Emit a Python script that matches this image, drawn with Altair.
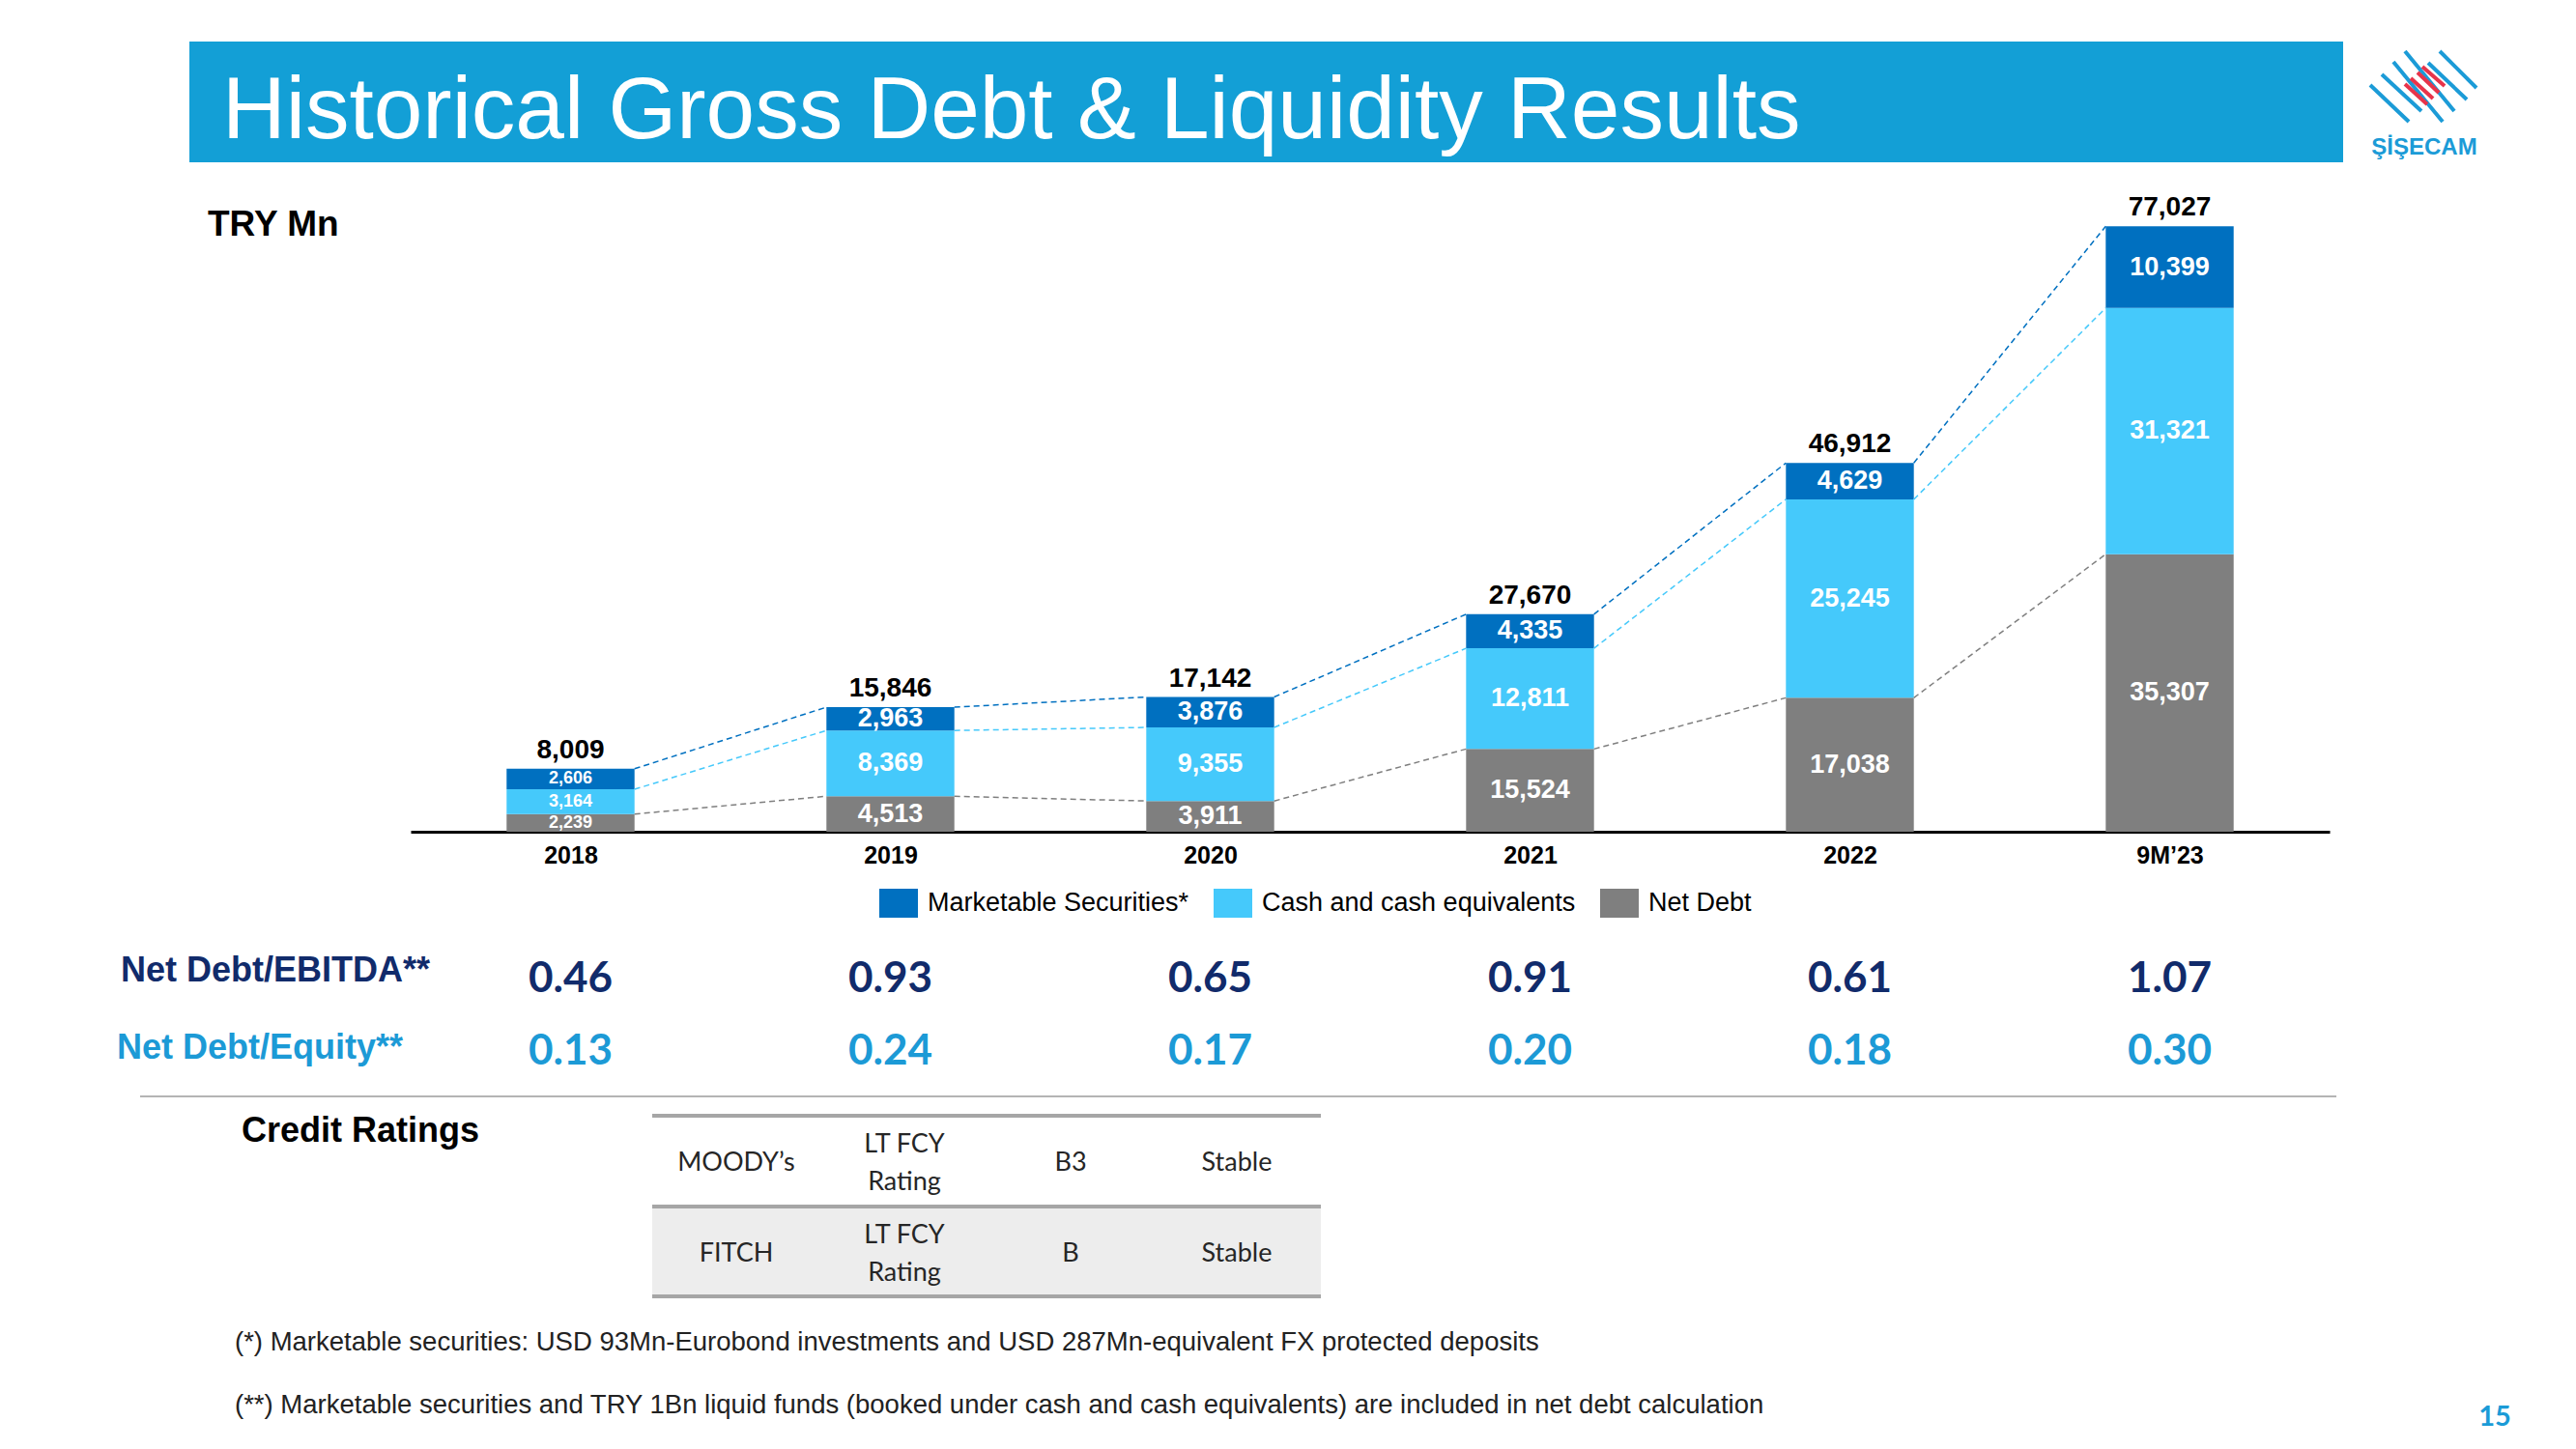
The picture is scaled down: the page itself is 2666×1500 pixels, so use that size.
import altair as alt
import pandas as pd

# ---------------- data ----------------
years = ["2018", "2019", "2020", "2021", "2022", "9M’23"]
net_debt = [2239, 4513, 3911, 10524, 17038, 35307]          # drawn heights
net_debt_labels = ["2,239", "4,513", "3,911", "15,524", "17,038", "35,307"]  # printed labels
cash = [3164, 8369, 9355, 12811, 25245, 31321]
securities = [2606, 2963, 3876, 4335, 4629, 10399]
totals = [8009, 15846, 17142, 27670, 46912, 77027]
nd_ebitda = [0.46, 0.93, 0.65, 0.91, 0.61, 1.07]
nd_equity = [0.13, 0.24, 0.17, 0.20, 0.18, 0.30]

series_names = ["Marketable Securities*", "Cash and cash equivalents", "Net Debt"]
series_colors = ["#0070C0", "#45C9FB", "#7F7F7F"]

agencies = ["MOODY’s", "FITCH"]
rating_types = ["LT FCY\nRating", "LT FCY\nRating"]
ratings = ["B3", "B"]
outlooks = ["Stable", "Stable"]

title_text = "Historical Gross Debt & Liquidity Results"
unit_text = "TRY Mn"
row_labels = ["Net Debt/EBITDA**", "Net Debt/Equity**"]
footnotes = [
    "(*) Marketable securities: USD 93Mn-Eurobond investments and USD 287Mn-equivalent FX protected deposits",
    "(**) Marketable securities and TRY 1Bn liquid funds (booked under cash and cash equivalents) are included in net debt calculation",
]
page_no = "15"
logo_text = "ŞİŞECAM"

# ---------------- tables ----------------
stack_order = [("Net Debt", net_debt, net_debt_labels),
               ("Cash and cash equivalents", cash, [f"{v:,}" for v in cash]),
               ("Marketable Securities*", securities, [f"{v:,}" for v in securities])]
seg_rows, tops = [], {n: [] for n, _, _ in stack_order}
for i in range(len(years)):
    base = 0
    for name, vals, labs in stack_order:
        seg_rows.append(dict(i=i, series=name, y0=base, y1=base + vals[i], label=labs[i]))
        base += vals[i]
        tops[name].append(base)
seg = pd.DataFrame(seg_rows)

con_rows = []
for name, _, _ in stack_order:
    for i in range(len(years) - 1):
        con_rows.append(dict(i=i, series=name, ya=tops[name][i], yb=tops[name][i + 1]))
con = pd.DataFrame(con_rows)

tot = pd.DataFrame(dict(i=list(range(len(years))), total=totals))
ratios = pd.DataFrame(dict(i=list(range(len(years))), ebitda=nd_ebitda, equity=nd_equity))
one = pd.DataFrame({"k": [0]})

FONT = "Liberation Sans"
FONT2 = "Lato"
HALF = 0.2

xscale = alt.Scale(domain=[-0.5, len(years) - 0.5], nice=False, zero=False)
yscale = alt.Scale(domain=[0, 80000], nice=False)
color_scale = alt.Scale(domain=series_names, range=series_colors)
label_expr = "[" + ",".join("'" + y + "'" for y in years) + "][datum.value]"

xaxis = alt.Axis(values=list(range(len(years))), labelExpr=label_expr, ticks=False, grid=False,
                 domainColor="#000000", domainWidth=3, labelFont=FONT, labelFontSize=25,
                 labelFontWeight="bold", labelColor="#000000", labelPadding=12, title=None)


def X(field):
    return alt.X(field, scale=xscale, axis=xaxis, title=None)


def Y(field):
    return alt.Y(field, scale=yscale, axis=None)


bars = alt.Chart(seg).mark_rect().transform_calculate(
    xl=f"datum.i - {HALF}", xr=f"datum.i + {HALF}"
).encode(
    x=X("xl:Q"),
    x2="xr:Q",
    y=Y("y0:Q"),
    y2="y1:Q",
    color=alt.Color("series:N", scale=color_scale, legend=alt.Legend(
        orient="none", legendX=485, legendY=705, direction="horizontal", title=None,
        symbolType="M-1,-0.75H1V0.75H-1Z", symbolSize=1600, symbolStrokeWidth=0,
        labelFont=FONT, labelFontSize=27, labelColor="#000000", labelOffset=10,
        columnPadding=25, labelLimit=600)),
)

connectors = alt.Chart(con).mark_rule(strokeDash=[6, 4], strokeWidth=1.5).transform_calculate(
    xa=f"datum.i + {HALF}", xb=f"datum.i + 1 - {HALF}"
).encode(
    x=X("xa:Q"), x2="xb:Q",
    y=Y("ya:Q"), y2="yb:Q",
    color=alt.Color("series:N", scale=color_scale, legend=None),
)

seg_text = alt.Chart(seg).mark_text(color="white", font=FONT, fontWeight="bold", baseline="middle").transform_calculate(
    ym="(datum.y0 + datum.y1) / 2"
).encode(
    x=X("i:Q"),
    y=Y("ym:Q"),
    text="label:N",
    size=alt.condition("datum.i == 0", alt.value(18), alt.value(27)),
)

tot_text = alt.Chart(tot).mark_text(color="black", font=FONT, fontWeight="bold", fontSize=28,
                                     baseline="alphabetic", dy=-11).encode(
    x=X("i:Q"),
    y=Y("total:Q"),
    text=alt.Text("total:Q", format=","),
)

ebitda_text = alt.Chart(ratios).mark_text(color="#112B6B", font=FONT2, fontWeight="bold", fontSize=44,
                                          baseline="alphabetic").encode(
    x=X("i:Q"), y=alt.value(817),
    text=alt.Text("ebitda:Q", format=".2f"))
equity_text = alt.Chart(ratios).mark_text(color="#1C9AD6", font=FONT2, fontWeight="bold", fontSize=44,
                                          baseline="alphabetic").encode(
    x=X("i:Q"), y=alt.value(892),
    text=alt.Text("equity:Q", format=".2f"))


def txt(s, x, y, size, color="#000000", weight="normal", font=FONT, align="left", baseline="alphabetic", **kw):
    return alt.Chart(one).mark_text(font=font, fontSize=size, color=color, fontWeight=weight,
                                    align=align, baseline=baseline, **kw).encode(
        x=alt.value(x), y=alt.value(y), text=alt.value(s))


def box(x, x2, y, y2, color):
    return alt.Chart(one).mark_rect(color=color).encode(
        x=alt.value(x), x2=alt.value(x2), y=alt.value(y), y2=alt.value(y2))


def line(x, x2, y, y2, color, width):
    return alt.Chart(one).mark_rule(color=color, strokeWidth=width).encode(
        x=alt.value(x), x2=alt.value(x2), y=alt.value(y), y2=alt.value(y2))


deco = []
# title band
deco.append(box(-229, 2000, -167, -42, "#139FD6"))
deco.append(txt(title_text, -195, -67, 91, color="white"))
# logo
blue_stripes = [((2453, 88), (2493, 126)), ((2465, 77), (2506, 115)), ((2477, 64), (2528, 126)),
                ((2489, 53), (2540, 115)), ((2513, 65), (2553, 103)), ((2525, 53), (2563, 91))]
red_stripes = [((2489, 87), (2512, 108)), ((2495, 81), (2518, 102)),
               ((2502, 75), (2524, 96)), ((2507, 69), (2530, 89))]
for (a, b) in blue_stripes:
    deco.append(line(a[0] - 425, b[0] - 425, a[1] - 210, b[1] - 210, "#1B9BD7", 4))
for (a, b) in red_stripes:
    deco.append(line(a[0] - 425, b[0] - 425, a[1] - 210, b[1] - 210, "#E8344A", 4))
deco.append(txt(logo_text, 2084, -50, 24, color="#1B9BD7", weight="bold", align="center"))
# unit
deco.append(txt(unit_text, -210, 34, 37, weight="bold"))
# ratio row labels
deco.append(txt(row_labels[0], -300, 806, 36, color="#112B6B", weight="bold"))
deco.append(txt(row_labels[1], -304, 886, 36, color="#1C9AD6", weight="bold"))
# separator
deco.append(line(-280, 1993, 925, 925, "#B4B4B4", 2))
# credit ratings
deco.append(txt("Credit Ratings", -175, 972, 36, weight="bold"))
deco.append(box(250, 942, 1039, 1132, "#EDEDED"))
for yy in (945, 1039, 1132):
    deco.append(line(250, 942, yy, yy, "#A6A6A6", 4))
col_x = [337, 511, 683, 855]
row_y = [994, 1088]
LH = 39
for r in range(len(agencies)):
    cells = [agencies[r], rating_types[r], ratings[r], outlooks[r]]
    for c, s in enumerate(cells):
        n = s.count("\n")
        deco.append(txt(s, col_x[c], row_y[r] - n * LH / 2, 27, color="#262626", font=FONT2, align="center",
                        baseline="middle", lineBreak="\n", lineHeight=LH))
# footnotes
deco.append(txt(footnotes[0], -182, 1188, 27.5, color="#222222"))
deco.append(txt(footnotes[1], -182, 1253, 27.5, color="#222222"))
# page number
deco.append(txt(page_no, 2157, 1266, 29, color="#1B9BD7", weight="bold", font=FONT2, align="center"))

chart = alt.layer(
    bars, connectors, seg_text, tot_text, ebitda_text, equity_text, *deco
).properties(
    width=1986, height=651,
    padding={"left": 417, "top": 202, "right": 247, "bottom": 631},
    autosize=alt.AutoSizeParams(type="none"),
).configure_view(stroke=None)

chart.save("out.html", embed_options={"renderer": "svg", "actions": False})
